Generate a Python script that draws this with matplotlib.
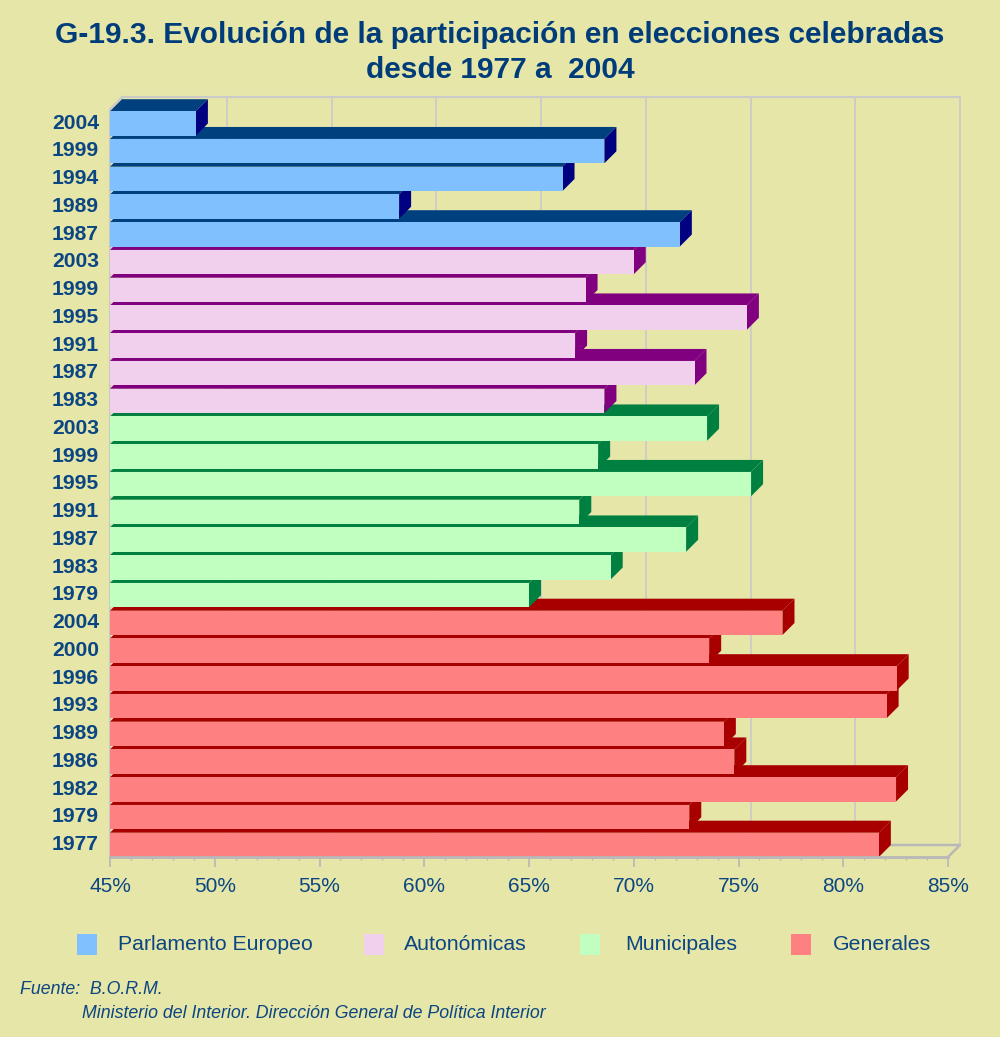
import matplotlib
matplotlib.use("Agg")
import matplotlib.pyplot as plt
from matplotlib.patches import Polygon, Rectangle
from matplotlib.ticker import MultipleLocator

plt.rcParams['font.family'] = ['Liberation Sans', 'DejaVu Sans']

# ---------------- data (top-to-bottom order as in the chart) ----------------
euro_years = ["2004", "1999", "1994", "1989", "1987"]
euro_vals = [49.1, 68.6, 66.6, 58.8, 72.2]

auto_years = ["2003", "1999", "1995", "1991", "1987", "1983"]
auto_vals = [70.0, 67.7, 75.4, 67.2, 72.9, 68.6]

muni_years = ["2003", "1999", "1995", "1991", "1987", "1983", "1979"]
muni_vals = [73.5, 68.3, 75.6, 67.4, 72.5, 68.9, 65.0]

gen_years = ["2004", "2000", "1996", "1993", "1989", "1986", "1982", "1979", "1977"]
gen_vals = [77.1, 73.6, 82.55, 82.07, 74.3, 74.8, 82.52, 72.65, 81.7]

series_names = ["Parlamento Europeo", "Autonómicas", "Municipales", "Generales"]
x_ticks = [45, 50, 55, 60, 65, 70, 75, 80, 85]

title1 = "G-19.3. Evolución de la participación en elecciones celebradas"
title2 = "desde 1977 a  2004"
source1 = "Fuente:  B.O.R.M."
source2 = "Ministerio del Interior. Dirección General de Política Interior"

# ---------------- styles ----------------
BG = '#E6E6A8'
TXT = '#0B4683'
front_cols = ['#80C0FF', '#F0D0EC', '#C0FFC0', '#FF8080']
top_cols = ['#00407F', '#800080', '#008040', '#A80000']
side_cols = ['#000080', '#800080', '#008040', '#A80000']
GRID = '#CACACA'
AXC = '#B8B8B8'

W, H = 1000, 1037
fig = plt.figure(figsize=(W / 100, H / 100), dpi=100)
fig.patch.set_facecolor(BG)

# plot region in pixels
X0_PX, X1_PX = 110, 960
Y0_PX, Y1_PX = 857, 97
PX_PER_PCT = 20.95
PX_PER_ROW = 27.75
DX = 12 / PX_PER_PCT
DY = 12 / PX_PER_ROW
BAR_H = 24.3 / PX_PER_ROW

ax = fig.add_axes([X0_PX / W, 1 - Y0_PX / H, (X1_PX - X0_PX) / W, (Y0_PX - Y1_PX) / H])
ax.set_facecolor('none')
XMIN = 45
XMAX = XMIN + (X1_PX - X0_PX) / PX_PER_PCT
YTOP = (Y0_PX - Y1_PX) / PX_PER_ROW
ax.set_xlim(XMIN, XMAX)
ax.set_ylim(0, YTOP)
for s in ax.spines.values():
    s.set_visible(False)

# back wall gridlines and frame
for t in x_ticks:
    ax.plot([t + DX, t + DX], [DY, YTOP], color=GRID, lw=1.2, zorder=0, clip_on=False)
ax.plot([XMIN + DX, x_ticks[-1] + DX], [YTOP, YTOP], color=GRID, lw=1.5, zorder=0, clip_on=False)
ax.plot([XMIN, XMIN, XMIN + DX], [0, YTOP - DY, YTOP], color=GRID, lw=1.5, zorder=0, clip_on=False)
# floor
ax.plot([XMIN + DX, x_ticks[-1] + DX, x_ticks[-1]], [DY, DY, 0], color=AXC, lw=1.8, zorder=0, clip_on=False)
ax.plot([XMIN, x_ticks[-1]], [0, 0], color=AXC, lw=2.0, zorder=5, clip_on=False)

# build rows bottom to top
rows = []  # (label, value, series index)
groups = [(euro_years, euro_vals), (auto_years, auto_vals), (muni_years, muni_vals), (gen_years, gen_vals)]
for gi in range(len(groups) - 1, -1, -1):
    yrs, vals = groups[gi]
    for lab, v in zip(reversed(yrs), reversed(vals)):
        rows.append((lab, v, gi))

for i, (lab, v, gi) in enumerate(rows):
    y0 = i
    y1 = i + BAR_H
    z = 2 + i * 0.01
    top = Polygon([(XMIN, y1), (v, y1), (v + DX, y1 + DY), (XMIN + DX, y1 + DY)],
                  closed=True, facecolor=top_cols[gi], edgecolor='none', zorder=z)
    side = Polygon([(v, y0), (v + DX, y0 + DY), (v + DX, y1 + DY), (v, y1)],
                   closed=True, facecolor=side_cols[gi], edgecolor='none', zorder=z)
    front = Rectangle((XMIN, y0), v - XMIN, BAR_H, facecolor=front_cols[gi],
                      edgecolor='none', zorder=z + 0.001)
    ax.add_patch(top)
    ax.add_patch(side)
    ax.add_patch(front)

# ticks
ax.set_xticks(x_ticks)
ax.set_xticklabels([f"{t}%" for t in x_ticks], fontsize=15, color=TXT)
ax.xaxis.set_minor_locator(MultipleLocator(1))
ax.tick_params(axis='x', which='major', length=7.5, width=1.2, color=AXC, pad=7)
ax.tick_params(axis='x', which='minor', length=2, width=1, color=AXC)
ax.set_yticks([i + BAR_H / 2 + 0.08 for i in range(len(rows))])
ax.set_yticklabels([r[0] for r in rows], fontsize=15.2, fontweight='bold', color=TXT)
ax.tick_params(axis='y', length=0, pad=8)

# title
fig.text(0.5, 1 - 35 / H, title1, ha='center', va='center', fontsize=21.5,
         fontweight='bold', color='#003C7A')
fig.text(0.5, 1 - 70 / H, title2, ha='center', va='center', fontsize=21.5,
         fontweight='bold', color='#003C7A')

# legend (manual)
leg_sq_x = [77, 364, 580, 791]
leg_tx_x = [118, 404, 625, 833]
for k in range(4):
    fig.patches.append(Rectangle((leg_sq_x[k] / W, 1 - 955 / H), 20 / W, 21 / H,
                                 transform=fig.transFigure, facecolor=front_cols[k],
                                 edgecolor='none'))
    fig.text(leg_tx_x[k] / W, 1 - 945 / H, series_names[k], ha='left', va='center',
             fontsize=15.3, color=TXT)

# source
fig.text(20 / W, 1 - 989 / H, source1, ha='left', va='center', fontsize=12.8,
         style='italic', color=TXT)
fig.text(82 / W, 1 - 1013 / H, source2, ha='left', va='center', fontsize=12.8,
         style='italic', color=TXT)

fig.savefig("out.png", dpi=100, facecolor=BG)
